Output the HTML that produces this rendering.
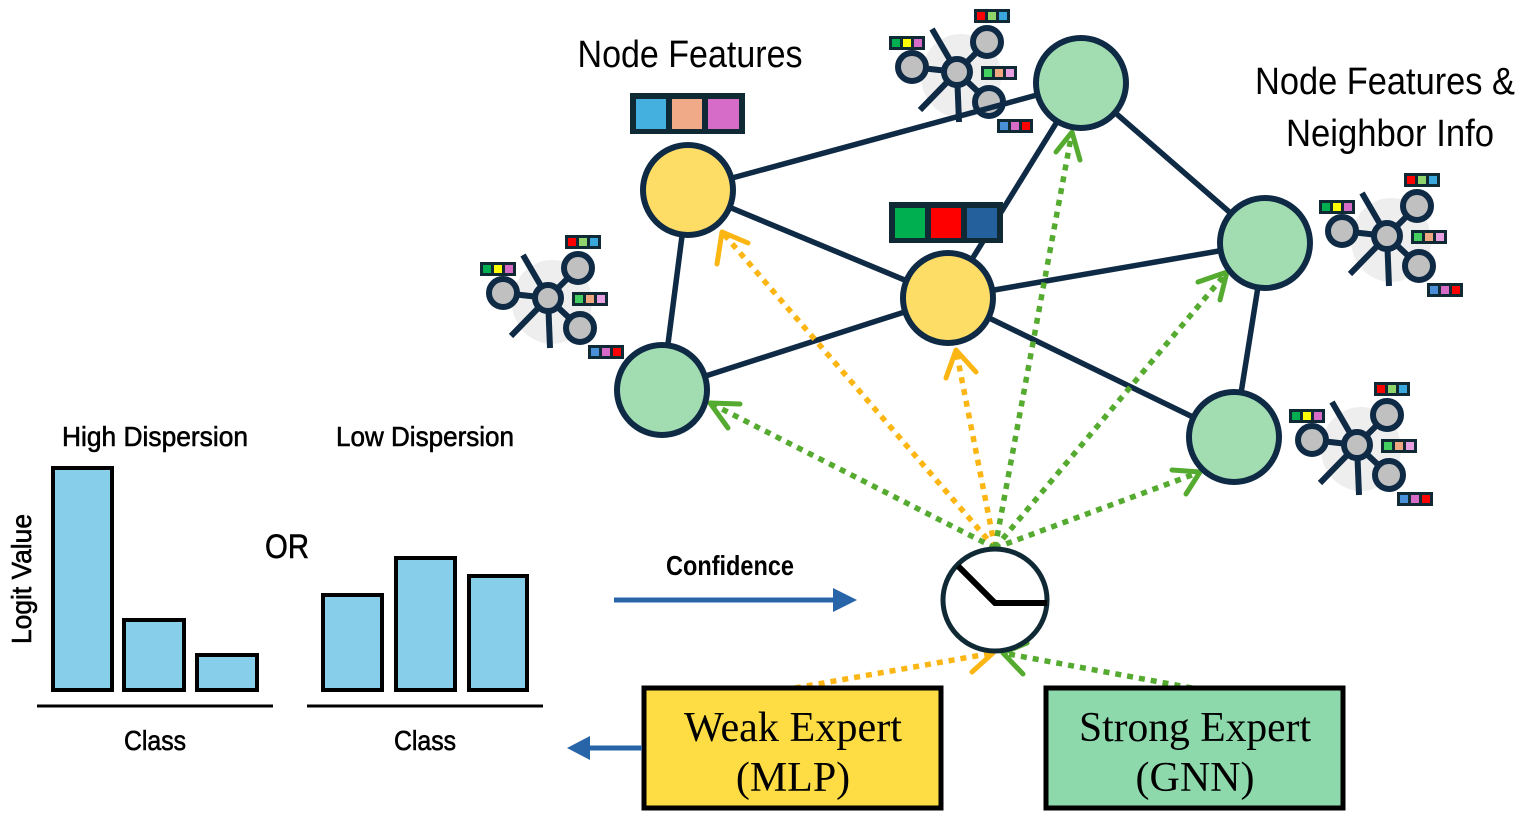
<!DOCTYPE html>
<html><head><meta charset="utf-8"><style>html,body{margin:0;padding:0;background:#fff}svg{display:block}</style></head>
<body>
<svg width="1522" height="838" viewBox="0 0 1522 838" xmlns="http://www.w3.org/2000/svg" font-family="Liberation Sans, sans-serif">
<defs>
<g id="ico">
<ellipse cx="4" cy="4" rx="40" ry="42" fill="#eeeeee"/>
<g stroke="#0f2a45" stroke-width="6" fill="#c0c0c0">
<line x1="0" y1="0" x2="-25" y2="-43"/><line x1="0" y1="0" x2="-37" y2="38"/><line x1="0" y1="0" x2="2" y2="50"/>
<line x1="0" y1="0" x2="-45" y2="-5"/><line x1="0" y1="0" x2="30" y2="-30"/><line x1="0" y1="0" x2="32" y2="30"/>
<circle cx="0" cy="0" r="13"/><circle cx="-45" cy="-5" r="14"/><circle cx="30" cy="-30" r="14"/><circle cx="32" cy="30" r="14"/>
</g>
<g>
<rect x="17" y="-63" width="36" height="14" fill="#0f2a35"/><rect x="20" y="-60" width="8" height="8" fill="#f00"/><rect x="31" y="-60" width="8" height="8" fill="#8fd46a"/><rect x="42" y="-60" width="8" height="8" fill="#3aa8dc"/>
<rect x="-68" y="-36" width="36" height="14" fill="#0f2a35"/><rect x="-65" y="-33" width="8" height="8" fill="#00b050"/><rect x="-54" y="-33" width="8" height="8" fill="#ff0"/><rect x="-43" y="-33" width="8" height="8" fill="#d66cc8"/>
<rect x="24" y="-6" width="36" height="14" fill="#0f2a35"/><rect x="27" y="-3" width="8" height="8" fill="#44d060"/><rect x="38" y="-3" width="8" height="8" fill="#f0a880"/><rect x="49" y="-3" width="8" height="8" fill="#e8a0e0"/>
<rect x="40" y="47" width="36" height="14" fill="#0f2a35"/><rect x="43" y="50" width="8" height="8" fill="#4a90d8"/><rect x="54" y="50" width="8" height="8" fill="#d66cc8"/><rect x="65" y="50" width="8" height="8" fill="#f00"/>
</g>
</g>
</defs>

<use href="#ico" x="548" y="298"/>
<use href="#ico" x="957" y="72"/>
<use href="#ico" x="1387" y="236"/>
<use href="#ico" x="1357" y="445"/>

<g stroke="#0f2a45" stroke-width="5.5">
<line x1="688" y1="190" x2="1081" y2="83"/>
<line x1="688" y1="190" x2="662" y2="390"/>
<line x1="688" y1="190" x2="948" y2="298"/>
<line x1="948" y1="298" x2="662" y2="390"/>
<line x1="948" y1="298" x2="1081" y2="83"/>
<line x1="948" y1="298" x2="1265" y2="243"/>
<line x1="948" y1="298" x2="1234" y2="437"/>
<line x1="1081" y1="83" x2="1265" y2="243"/>
<line x1="1265" y1="243" x2="1234" y2="437"/>
</g>

<g stroke-width="5.5" stroke-dasharray="6,6" fill="none">
<line x1="995" y1="548" x2="722" y2="232" stroke="#fbb614"/>
<line x1="995" y1="548" x2="956" y2="350" stroke="#fbb614"/>
<line x1="995" y1="548" x2="1072" y2="132" stroke="#55aa30"/>
<line x1="995" y1="548" x2="1227" y2="272" stroke="#55aa30"/>
<line x1="995" y1="548" x2="1200" y2="472" stroke="#55aa30"/>
<line x1="995" y1="548" x2="710" y2="403" stroke="#55aa30"/>
<line x1="795" y1="688" x2="993" y2="653" stroke="#fbb614"/>
<line x1="1192" y1="688" x2="1003" y2="653" stroke="#55aa30"/>
</g>
<g stroke-width="5" fill="none" stroke-linecap="round" stroke-linejoin="round">
<polyline points="717,264 722,232 748,243" stroke="#fbb614"/>
<polyline points="946,378 956,350 976,372" stroke="#fbb614"/>
<polyline points="1056,152 1072,132 1080,160" stroke="#55aa30"/>
<polyline points="1198,282 1227,272 1220,300" stroke="#55aa30"/>
<polyline points="1172,470 1200,472 1186,494" stroke="#55aa30"/>
<polyline points="740,404 710,403 728,428" stroke="#55aa30"/>
<polyline points="970,644 993,653 972,672" stroke="#fbb614"/>
<polyline points="1027,643 1003,653 1023,674" stroke="#55aa30"/>
</g>

<g stroke="#0f2a45" stroke-width="6">
<circle cx="688" cy="190" r="45" fill="#fddd66"/>
<circle cx="948" cy="298" r="45" fill="#fddd66"/>
<circle cx="1081" cy="83" r="45" fill="#a2ddb2"/>
<circle cx="1265" cy="243" r="45" fill="#a2ddb2"/>
<circle cx="662" cy="390" r="45" fill="#a2ddb2"/>
<circle cx="1234" cy="437" r="45" fill="#a2ddb2"/>
</g>

<rect x="630" y="93" width="115" height="41" fill="#0f2a35"/>
<rect x="636" y="99" width="30" height="30" fill="#44b0e0"/><rect x="672" y="99" width="30" height="30" fill="#f0aa88"/><rect x="708" y="99" width="31" height="30" fill="#d66cc8"/>
<rect x="889" y="202" width="114" height="41" fill="#0f2a35"/>
<rect x="895" y="208" width="30" height="30" fill="#00b050"/><rect x="931" y="208" width="30" height="30" fill="#ff0000"/><rect x="967" y="208" width="30" height="30" fill="#23609c"/>

<ellipse cx="995" cy="600" rx="52" ry="51" fill="#fff" stroke="#0f2a35" stroke-width="5"/>
<polyline points="958,566 995,603 1047,603" fill="none" stroke="#000" stroke-width="6"/>

<text x="690" y="67" font-size="38" text-anchor="middle" textLength="225" lengthAdjust="spacingAndGlyphs">Node Features</text>
<text x="1385" y="94" font-size="38" text-anchor="middle" textLength="260" lengthAdjust="spacingAndGlyphs">Node Features &amp;</text>
<text x="1390" y="146" font-size="38" text-anchor="middle" textLength="208" lengthAdjust="spacingAndGlyphs">Neighbor Info</text>

<rect x="644" y="688" width="297" height="120" fill="#fedd44" stroke="#000" stroke-width="5"/>
<rect x="1046" y="688" width="297" height="120" fill="#8dd9ac" stroke="#000" stroke-width="5"/>
<g font-family="Liberation Serif, serif" font-size="42" text-anchor="middle">
<text x="793" y="741" textLength="218" lengthAdjust="spacingAndGlyphs">Weak Expert</text><text x="793" y="791">(MLP)</text>
<text x="1195" y="741" textLength="232" lengthAdjust="spacingAndGlyphs">Strong Expert</text><text x="1195" y="791">(GNN)</text>
</g>

<line x1="614" y1="600" x2="835" y2="600" stroke="#2765a8" stroke-width="5"/>
<polygon points="833,588 857,600 833,612" fill="#2765a8"/>
<line x1="642" y1="748" x2="588" y2="748" stroke="#2765a8" stroke-width="5"/>
<polygon points="590,736 567,748 590,760" fill="#2765a8"/>
<text x="730" y="575" font-size="28" font-weight="bold" text-anchor="middle" textLength="128" lengthAdjust="spacingAndGlyphs">Confidence</text>

<g fill="#87ceeb" stroke="#000" stroke-width="4">
<rect x="53" y="468" width="59" height="222"/><rect x="124" y="620" width="60" height="70"/><rect x="197" y="655" width="60" height="35"/>
<rect x="323" y="595" width="59" height="95"/><rect x="396" y="558" width="59" height="132"/><rect x="469" y="576" width="58" height="114"/>
</g>
<line x1="37" y1="706" x2="273" y2="706" stroke="#000" stroke-width="3"/>
<line x1="307" y1="706" x2="543" y2="706" stroke="#000" stroke-width="3"/>
<g font-size="28" text-anchor="middle" stroke="#000" stroke-width="0.6">
<text x="155" y="446" textLength="186" lengthAdjust="spacingAndGlyphs">High Dispersion</text>
<text x="425" y="446" textLength="178" lengthAdjust="spacingAndGlyphs">Low Dispersion</text>
<text x="155" y="750" textLength="62" lengthAdjust="spacingAndGlyphs">Class</text>
<text x="425" y="750" textLength="62" lengthAdjust="spacingAndGlyphs">Class</text>
<text x="287" y="558" font-size="34" textLength="44" lengthAdjust="spacingAndGlyphs">OR</text>
<text transform="translate(31,579) rotate(-90)" textLength="130" lengthAdjust="spacingAndGlyphs">Logit Value</text>
</g>
</svg>
</body></html>
